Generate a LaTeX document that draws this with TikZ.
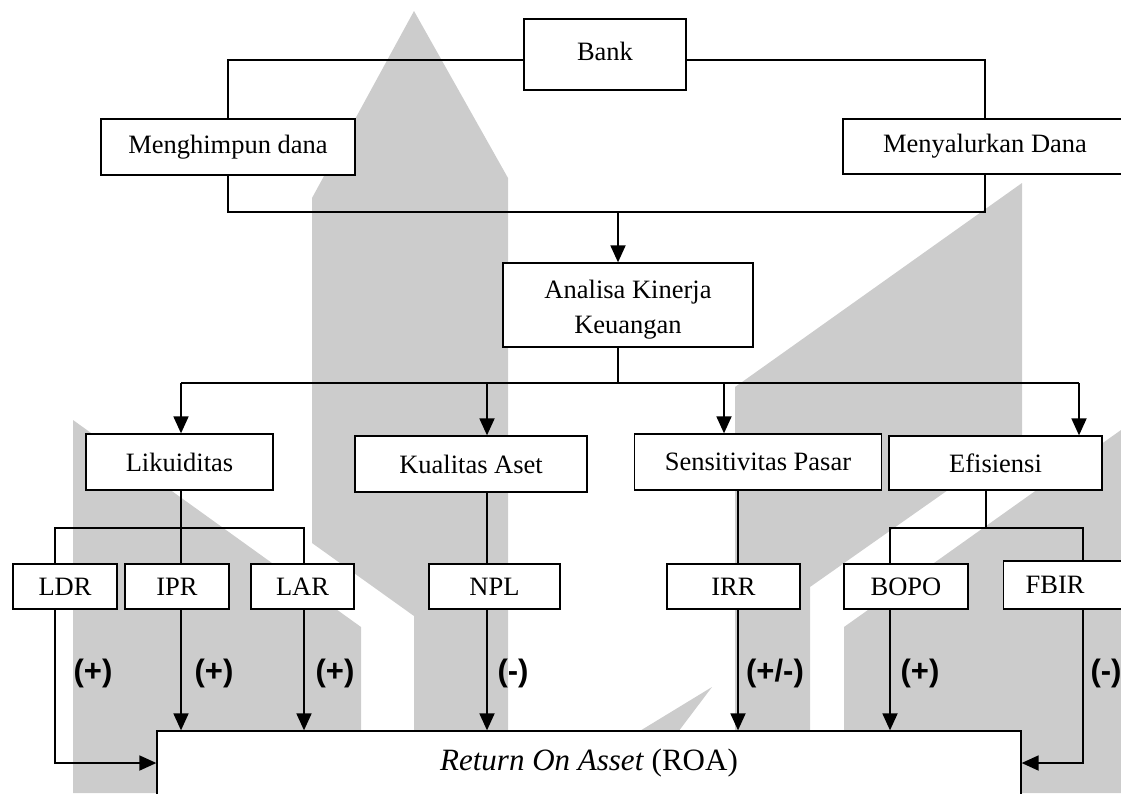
\documentclass[tikz,border=0pt]{standalone}
\usepackage{fontspec}
\setmainfont{Liberation Serif}
\setsansfont{Liberation Sans}
\usetikzlibrary{arrows.meta}

\tikzset{
  kotak/.style={draw, fill=white, line width=1.3pt, inner sep=0pt, font=\fontsize{26.5}{35}\selectfont},
  garis/.style={line width=1.3pt},
  panah/.style={line width=1.8pt, -{Triangle[length=17pt,width=15pt]}},
  tanda/.style={font=\fontsize{31}{34}\selectfont\sffamily\bfseries},
  latar/.style={fill=black!20}
}

\begin{document}
\begin{tikzpicture}[x=1pt,y=-1pt]
  \useasboundingbox (0,0) rectangle (1121,793);
  % latar (logo abu-abu)
  \path[latar] (414,11) -- (508,178) -- (508,793) -- (414,793) -- (414,616) -- (312,543) -- (312,198) -- cycle;
  \path[latar] (73,420) -- (361,627) -- (361,793) -- (73,793) -- cycle;
  \path[latar] (1022,183) -- (1022,438) -- (810,587) -- (810,731) -- (735,731) -- (735,387) -- cycle;
  \path[latar] (1121,430) -- (844,627) -- (844,793) -- (1121,793) -- cycle;
  \path[latar] (712,687) -- (672,740) -- (625,740) -- cycle;

  % bank
  \node[kotak, minimum width=162pt, minimum height=71pt] (bank) at (605,54.5) {\raisebox{6pt}{Bank}};
  \node[kotak, minimum width=254pt, minimum height=56pt] (himpun) at (228,147) {Menghimpun dana};
  \node[kotak, minimum width=284pt, minimum height=55pt] (salur) at (985,146.5) {Menyalurkan Dana};
  \draw[garis] ([yshift=-5.5pt]bank.west) -| (himpun.north);
  \draw[garis] ([yshift=-5.5pt]bank.east) -| (salur.north);
  \coordinate (gabung) at (618,212);
  \draw[garis] (himpun.south) |- (gabung) -| (salur.south);

  % analisa
  \node[kotak, minimum width=250pt, minimum height=84pt,
    label={[align=center, font=\fontsize{26.5}{35}\selectfont, yshift=-4.5pt]center:Analisa Kinerja\\Keuangan}] (analisa) at (628,305) {};
  \draw[panah] (gabung) -- (gabung |- analisa.north);
  \coordinate (cabang) at (618,383);
  \draw[garis] (analisa.south -| cabang) -- (cabang);
  \draw[garis] (181,383) -- (1079,383);

  % aspek
  \node[kotak, minimum width=187pt, minimum height=56pt] (likuid) at (179.5,462) {Likuiditas};
  \node[kotak, minimum width=232pt, minimum height=56pt] (kualitas) at (471,464) {Kualitas Aset};
  \node[kotak, minimum width=247pt, minimum height=56pt] (sensitif) at (758,462) {Sensitivitas Pasar};
  \node[kotak, minimum width=213pt, minimum height=54pt] (efisien) at (995.5,463) {Efisiensi};
  \foreach \x/\n in {181/likuid, 487/kualitas, 724/sensitif, 1079/efisien}
    \draw[panah] (\x,383) -- (\n.north -| \x,0);

  % rasio
  \node[kotak, minimum width=104pt, minimum height=45pt] (ldr) at (65,586.5) {LDR};
  \node[kotak, minimum width=104pt, minimum height=45pt] (ipr) at (177,586.5) {IPR};
  \node[kotak, minimum width=103pt, minimum height=45pt] (lar) at (302.5,586.5) {LAR};
  \node[kotak, minimum width=131pt, minimum height=45pt] (npl) at (494.5,586.5) {NPL};
  \node[kotak, minimum width=133pt, minimum height=45pt] (irr) at (733.5,586.5) {IRR};
  \node[kotak, minimum width=124pt, minimum height=45pt] (bopo) at (906,586.5) {BOPO};
  \node[kotak, anchor=west, text width=90pt, align=left, inner xsep=22pt, minimum height=48pt] (fbir) at (1003,585) {FBIR};

  \draw[garis] (likuid.south -| 181,0) -- (181,528);
  \draw[garis] (ldr.north -| 55,0) -- (55,528) -- (304,528) -- (lar.north -| 304,0);
  \draw[garis] (181,528) -- (ipr.north -| 181,0);
  \draw[garis] (kualitas.south -| 487,0) -- (npl.north -| 487,0);
  \draw[garis] (sensitif.south -| 738,0) -- (irr.north -| 738,0);
  \draw[garis] (efisien.south -| 986,0) -- (986,528);
  \draw[garis] (bopo.north -| 890,0) -- (890,528) -- (1083,528) -- (fbir.north -| 1083,0);

  % ROA
  \node[kotak, font=\fontsize{31}{35}\selectfont, minimum width=864pt, minimum height=64pt] (roa) at (589,763) {\textit{Return On Asset} (ROA)};
  \foreach \x/\n in {181/ipr, 304/lar, 487/npl, 738/irr, 890/bopo}
    \draw[panah] (\n.south -| \x,0) -- (roa.north -| \x,0);
  \draw[panah] (ldr.south -| 55,0) |- (roa.west);
  \draw[panah] (fbir.south -| 1083,0) |- (roa.east);

  % tanda pengaruh
  \node[tanda] (t1) at (93,673) {(+)};
  \node[tanda] (t2) at (214,673) {(+)};
  \node[tanda] (t3) at (335,673) {(+)};
  \node[tanda] (t4) at (513,673) {(-)};
  \node[tanda] (t5) at (775,673) {(+/-)};
  \node[tanda] (t6) at (920,673) {(+)};
  \node[tanda] (t7) at (1106,673) {(-)};
\end{tikzpicture}
\end{document}
